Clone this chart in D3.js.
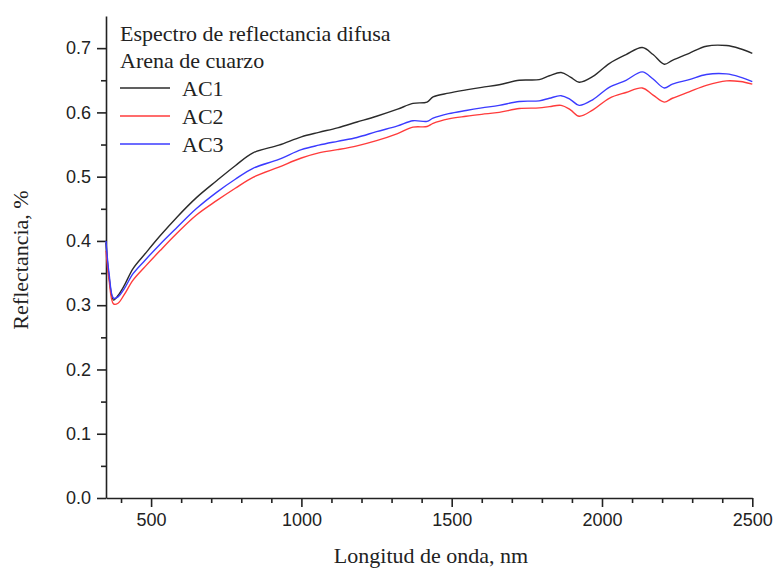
<!DOCTYPE html>
<html><head><meta charset="utf-8">
<script src="https://cdn.jsdelivr.net/npm/d3@7"></script>
<style>html,body{margin:0;padding:0;background:#fff;}svg{display:block;}</style>
</head><body>
<script>
const wavelengths = [350,360,375,390,410,440,480,530,586,650,719,780,839,925,1000,1058,1120,1185,1250,1320,1371,1418,1438,1490,1548,1600,1658,1725,1791,1825,1864,1895,1924,1970,2024,2080,2134,2170,2207,2234,2290,2347,2414,2460,2500];
const ac1 = [0.397,0.345,0.308,0.315,0.330,0.357,0.380,0.408,0.437,0.467,0.494,0.517,0.537,0.549,0.562,0.569,0.576,0.585,0.594,0.605,0.614,0.616,0.624,0.630,0.635,0.639,0.643,0.650,0.651,0.657,0.662,0.655,0.647,0.656,0.676,0.690,0.701,0.690,0.675,0.681,0.692,0.703,0.704,0.699,0.692];
const ac2 = [0.385,0.340,0.302,0.303,0.316,0.339,0.360,0.385,0.412,0.440,0.463,0.482,0.499,0.515,0.529,0.537,0.542,0.548,0.556,0.567,0.577,0.578,0.583,0.590,0.594,0.597,0.600,0.606,0.607,0.609,0.611,0.604,0.594,0.604,0.622,0.631,0.638,0.627,0.616,0.622,0.632,0.642,0.649,0.648,0.644];
const ac3 = [0.400,0.350,0.311,0.313,0.325,0.349,0.370,0.395,0.421,0.450,0.476,0.496,0.513,0.527,0.542,0.549,0.555,0.561,0.570,0.579,0.587,0.586,0.591,0.598,0.603,0.607,0.611,0.617,0.618,0.622,0.626,0.620,0.611,0.620,0.639,0.650,0.663,0.652,0.638,0.644,0.651,0.659,0.660,0.655,0.648];
const seriesNames = ["AC1","AC2","AC3"];
const seriesColors = ["#2b2b2b","#ff3b3b","#3b3bff"];
const xMajorTicks = [500,1000,1500,2000,2500];
const xMinorTicks = [400,600,700,800,900,1100,1200,1300,1400,1600,1700,1800,1900,2100,2200,2300,2400];
const yMajorTicks = [0,0.1,0.2,0.3,0.4,0.5,0.6,0.7];
const yMinorTicks = [0.05,0.15,0.25,0.35,0.45,0.55,0.65];
const titleLines = ["Espectro de reflectancia difusa","Arena de cuarzo"];
const xTitle = "Longitud de onda, nm";
const yTitle = "Reflectancia, %";

const W = 777, H = 568;
const svg = d3.select("body").append("svg").attr("width", W).attr("height", H);
const x = d3.scaleLinear().domain([350, 2500]).range([106, 752.3]);
const y = d3.scaleLinear().domain([0, 0.75]).range([498, 16]);

const serif = "'Liberation Serif','Times New Roman',serif";
const sans = "'Liberation Sans',Arial,sans-serif";

// axes
const gx = svg.append("g").attr("transform", "translate(0,498)");
gx.call(d3.axisBottom(x).tickValues(xMajorTicks).tickSize(9).tickSizeOuter(0).tickPadding(6).tickFormat(d3.format("d")));
const gxm = svg.append("g").attr("transform", "translate(0,498)");
gxm.call(d3.axisBottom(x).tickValues(xMinorTicks).tickSize(5).tickSizeOuter(0).tickFormat(""));
gxm.select(".domain").remove();

const gy = svg.append("g").attr("transform", "translate(106,0)");
gy.call(d3.axisLeft(y).tickValues(yMajorTicks).tickSize(9).tickSizeOuter(0).tickPadding(6).tickFormat(d3.format(".1f")));
const gym = svg.append("g").attr("transform", "translate(106,0)");
gym.call(d3.axisLeft(y).tickValues(yMinorTicks).tickSize(5).tickSizeOuter(0).tickFormat(""));
gym.select(".domain").remove();

svg.selectAll(".domain, .tick line").attr("stroke", "#222").attr("stroke-width", 1.6);
svg.selectAll(".tick text").attr("font-family", sans).attr("font-size", 18).attr("fill", "#222");

// lines
const seriesData = [ac1, ac2, ac3];
const line = d3.line().x((d, i) => x(wavelengths[i])).y(d => y(d)).curve(d3.curveCatmullRom.alpha(0.5));
svg.append("g").selectAll("path").data(seriesData).join("path")
  .attr("d", d => line(d))
  .attr("fill", "none")
  .attr("stroke", (d, i) => seriesColors[i])
  .attr("stroke-width", 1.4);

// axis titles
svg.append("text").attr("x", 431).attr("y", 563).attr("text-anchor", "middle")
  .attr("font-family", serif).attr("font-size", 22).attr("fill", "#222").text(xTitle);
svg.append("text").attr("transform", "translate(28,260) rotate(-90)").attr("text-anchor", "middle")
  .attr("font-family", serif).attr("font-size", 22).attr("fill", "#222").text(yTitle);

// legend
const lg = svg.append("g");
titleLines.forEach((t, i) => {
  lg.append("text").attr("x", 120).attr("y", 41 + i * 27).attr("font-family", serif)
    .attr("font-size", 22).attr("fill", "#222").text(t);
});
seriesNames.forEach((n, i) => {
  const yy = 88 + i * 28;
  lg.append("line").attr("x1", 120).attr("x2", 170).attr("y1", yy).attr("y2", yy)
    .attr("stroke", seriesColors[i]).attr("stroke-width", 1.4);
  lg.append("text").attr("x", 182).attr("y", yy + 8).attr("font-family", serif)
    .attr("font-size", 22).attr("fill", "#222").text(n);
});
</script>
</body></html>
